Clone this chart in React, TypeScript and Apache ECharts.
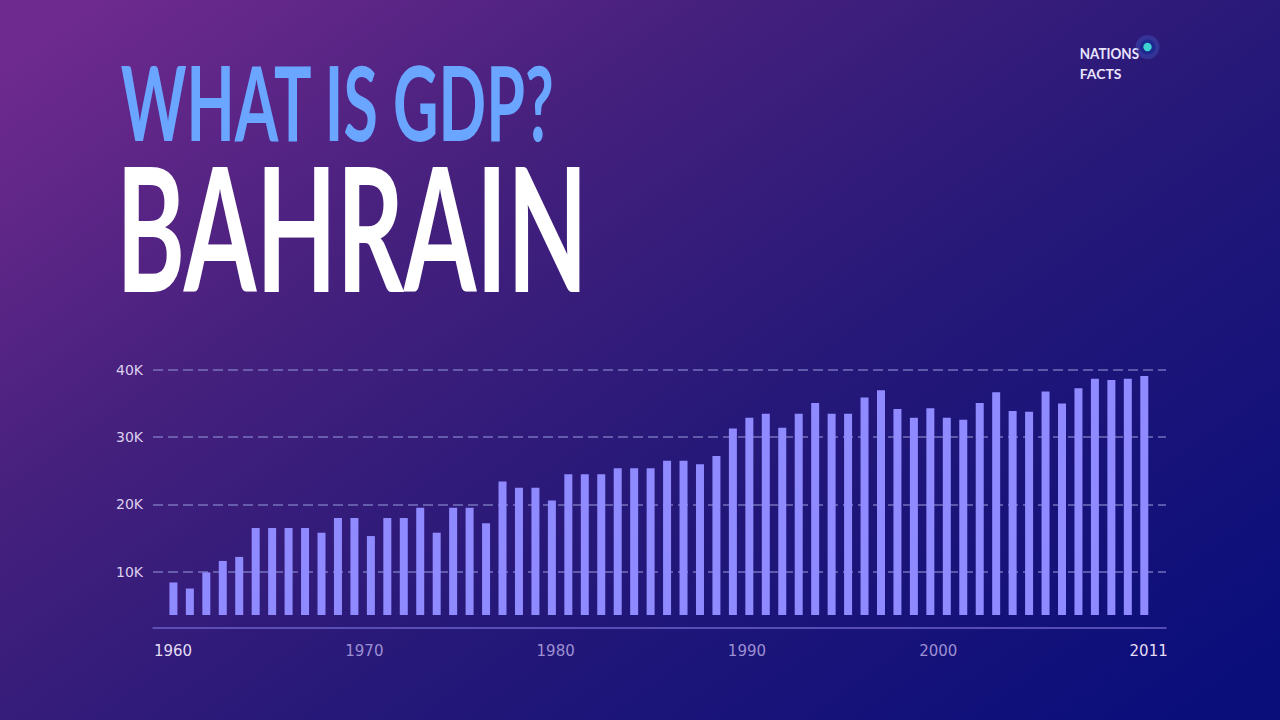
import React, { useEffect, useRef } from 'react';
import * as echarts from 'echarts';

// GDP bars
const gdpValues = [
  8400, 7500, 9900, 11600, 12200, 16500, 16500, 16500, 16500, 15800,
  18000, 18000, 15300, 18000, 18000, 19500, 15800, 19500, 19500, 17200,
  23400, 22500, 22500, 20600, 24500, 24500, 24500, 25400, 25400, 25400,
  26500, 26500, 26000, 27200, 31300, 32900, 33500, 31400, 33500, 35100,
  33500, 33500, 35900, 37000, 34200, 32900, 34300, 32900, 32600, 35100,
  36700, 33900, 33800, 36800, 35000, 37300, 38700, 38500, 38700, 39100,
];
const barIndex = gdpValues.map((_, i) => i);
const yearLabels = [1960, 1970, 1980, 1990, 2000, 2011];
const brightYears = [1960, 2011];
const titleText = 'WHAT IS GDP?';
const countryText = 'BAHRAIN';
const logoLines = ['NATIONS', 'FACTS'];

function measure(text: string, font: string, baseline: CanvasTextBaseline) {
  const c = document.createElement('canvas').getContext('2d')!;
  c.font = font;
  c.textBaseline = baseline;
  return c.measureText(text);
}

function fitText(text: string, family: string, weight: string, capTop: number, capBottom: number, left: number, right: number) {
  const capH = capBottom - capTop;
  const mH = measure('H', `${weight} 100px ${family}`, 'alphabetic');
  const ratio = mH.actualBoundingBoxAscent / 100 || 0.72;
  const fontSize = capH / ratio;
  const font = `${weight} ${fontSize}px ${family}`;
  const m = measure(text, font, 'middle');
  const ink = m.actualBoundingBoxLeft + m.actualBoundingBoxRight;
  const s = (right - left) / ink;
  const mh2 = measure('H', font, 'middle');
  // empirical correction between canvas 'middle' and SVG 'central'
  return { x: left + s * m.actualBoundingBoxLeft, y: capTop + mh2.actualBoundingBoxAscent - 0.07 * fontSize, scaleX: s, fontSize };
}

export default function App() {
  const ref = useRef<HTMLDivElement>(null);
  useEffect(() => {
    if (!ref.current) return;
    const chart = echarts.init(ref.current, undefined, { renderer: 'svg' });
    const fam = 'Lato';
    const tw = 'bold';
    const t1 = fitText(titleText, fam, tw, 66.7, 141.7, 120.7, 554);
    const t2 = fitText(countryText, fam, tw, 167.3, 293.3, 124, 580);
    const l1 = fitText(logoLines[0], fam, 'bold', 48.3, 59, 1080.7, 1139);
    const l2 = fitText(logoLines[1], fam, 'bold', 69, 79.3, 1080.7, 1121.7);
    const mkText = (t: any, text: string, fill: string, weight: string) => ({
      type: 'text', x: t.x, y: t.y, scaleX: t.scaleX, silent: true,
      style: { text, fill, fontSize: t.fontSize, fontFamily: fam, fontWeight: weight, align: 'left', verticalAlign: 'middle' },
    });
    chart.setOption({
      animation: false,
      backgroundColor: new echarts.graphic.LinearGradient(0, 0.1, 1, 0.9, [
        { offset: 0, color: '#6e2a8e' },
        { offset: 0.3, color: '#45207d' },
        { offset: 0.6, color: '#251878' },
        { offset: 1, color: '#0a0e7b' },
      ]),
      grid: { left: 153, right: 114, top: 370, bottom: 105, containLabel: false },
      xAxis: [
        { type: 'value', min: -1.24, max: 60.32, show: false },
        {
          type: 'value', min: 1958.952, max: 2011.906, position: 'bottom', offset: 13,
          axisLine: { show: true, lineStyle: { color: '#6b60c9', width: 1.5 } },
          axisTick: { show: false },
          splitLine: { show: false },
          axisLabel: {
            customValues: yearLabels,
            margin: 15,
            fontFamily: 'DejaVu Sans',
            fontSize: 15,
            formatter: (v: number) => (brightYears.includes(Math.round(v)) ? `{hi|${Math.round(v)}}` : `{lo|${Math.round(v)}}`),
            rich: {
              hi: { color: '#e4dcf4', fontSize: 15, fontFamily: 'DejaVu Sans' },
              lo: { color: '#9d8fd2', fontSize: 15, fontFamily: 'DejaVu Sans' },
            },
          },
        },
      ],
      yAxis: {
        type: 'value', min: 3560, max: 40000,
        axisLine: { show: false }, axisTick: { show: false },
        axisLabel: {
          color: '#ddd0ee', fontSize: 14, fontFamily: 'DejaVu Sans', margin: 10, showMinLabel: false,
          formatter: (v: number) => (v % 10000 === 0 ? `${v / 1000}K` : ''),
        },
        splitLine: { show: true, showMinLine: false, lineStyle: { color: 'rgba(135,135,205,0.6)', width: 2, type: [10, 5] } },
      },
      series: [{
        type: 'bar', xAxisIndex: 0, yAxisIndex: 0, barWidth: 8, clip: true, silent: true,
        itemStyle: { color: '#8f8aff' },
        data: gdpValues.map((v, i) => [barIndex[i], v]),
      }],
      graphic: [
        mkText(t1, titleText, '#6aa6ff', tw),
        mkText(t2, countryText, '#ffffff', tw),
        mkText(l1, logoLines[0], '#e8e4ff', 'bold'),
        mkText(l2, logoLines[1], '#e8e4ff', 'bold'),
        { type: 'circle', silent: true, shape: { cx: 1147.5, cy: 47, r: 12 }, style: { fill: 'rgba(70,100,210,0.35)' } },
        { type: 'circle', silent: true, shape: { cx: 1147.5, cy: 47, r: 7.5 }, style: { fill: 'rgba(25,40,140,0.9)' } },
        { type: 'circle', silent: true, shape: { cx: 1147.5, cy: 47, r: 4.2 }, style: { fill: '#3fd2d2' } },
      ],
    });
    return () => chart.dispose();
  }, []);
  return <div ref={ref} style={{ position: 'fixed', left: 0, top: 0, width: 1280, height: 720 }} />;
}
